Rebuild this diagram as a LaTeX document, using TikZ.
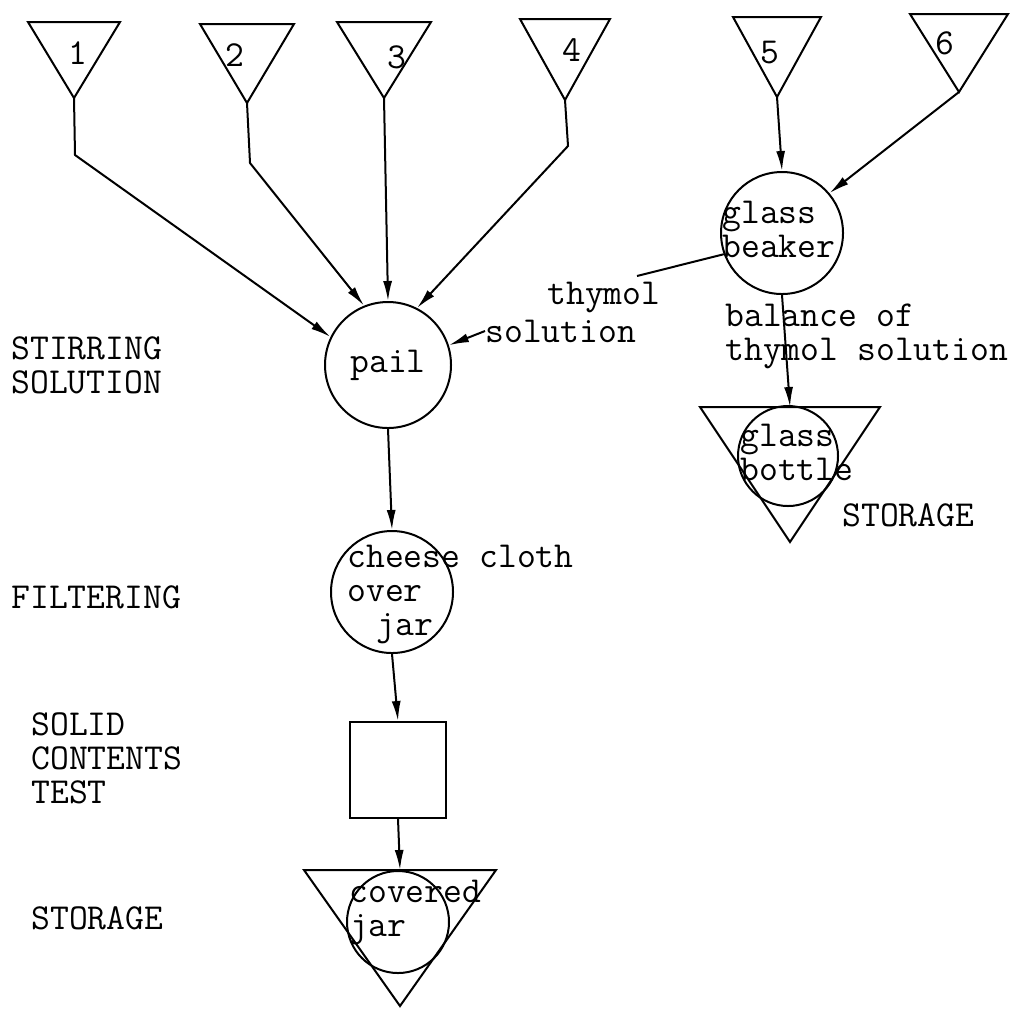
\documentclass[tikz,border=0pt]{standalone}
\usepackage{fontspec}
\usepackage{tikz}
\usetikzlibrary{arrows.meta}
\def\Bin#1#2#3#4#5{%
 \draw[bin edge] (#2-#4,#3) -- (#2+#4,#3) -- (#2,#3+#5) -- cycle;
 \coordinate (#1 top) at (#2,#3);
 \coordinate (#1 apex) at (#2,#3+#5);
}

\begin{document}
\begin{tikzpicture}[x=0.5pt, y=-0.5pt,
  every node/.style={font=\ttfamily\fontsize{18.3}{17}\selectfont},
  stage note/.style={anchor=west, align=left, inner sep=0pt},
  vessel/.style={draw, circle, line width=1pt, inner sep=0pt},
  test box/.style={draw, line width=1pt, minimum size=48pt},
  bin edge/.style={line width=1pt, line join=miter},
  flow line/.style={draw, line width=1pt, -{Latex[length=10pt,width=4.5pt]}},
  plain line/.style={draw, line width=1pt}]
\useasboundingbox (0,0) rectangle (1021,1009);

% supply bins
\Bin{b1}{74}{22}{46}{76}
\Bin{b2}{247}{24}{47}{79}
\Bin{b3}{384}{22}{47}{76}
\Bin{b4}{565}{19}{45}{81}
\Bin{b5}{777}{17}{44}{80}
\Bin{b6}{959}{14}{49}{78}
\node (n1) at (78,53) {1};
\node (n2) at (235,55) {2};
\node (n3) at (397,57) {3};
\node (n4) at (572,50) {4};
\node (n5) at (770,53) {5};
\node (n6) at (945,43) {6};

% main line
\node[vessel, minimum size=63pt] (pail) at (388,365) {pail};
\node[vessel, minimum size=61pt] (cheese) at (392,592) {};
\node[stage note] (cheese text) at (347,594) {cheese cloth\\over\\\hspace*{0.8em}jar};
\node[test box] (solids) at (398,770) {};
\Bin{store1}{400}{870}{96}{136}
\node[vessel, minimum size=51pt] (jar) at (398,922) {};
\node[stage note] (jar text) at (349,912) {covered\\jar};

% thymol line
\node[vessel, minimum size=61pt] (beaker) at (782,233) {};
\node[stage note] (beaker text) at (722,229) {glass\\beaker};
\Bin{store2}{790}{407}{90}{135}
\node[vessel, minimum size=50pt] (bottle) at (788,456) {};
\node[stage note] (bottle text) at (740,452) {glass\\bottle};

% stage names
\node[stage note] (stir) at (11,365) {STIRRING\\SOLUTION};
\node[stage note] (filter) at (11,597) {FILTERING};
\node[stage note] (solid) at (31,758) {SOLID\\CONTENTS\\TEST};
\node[stage note] (storage1) at (31,918) {STORAGE};
\node[stage note] (storage2) at (842,515) {STORAGE};
\node[stage note] (balance) at (725,336) {balance of\\thymol solution};
\node[stage note] (thymol) at (547,297) {thymol};
\node[stage note] (solution) at (485,331) {solution};

% connectors
\draw[flow line] (b1 apex) -- (75,155) -- (pail.154);
\draw[flow line] (b2 apex) -- (250,163) -- (pail.112);
\draw[flow line] (b3 apex) -- (pail.north);
\draw[flow line] (b4 apex) -- (568,146) -- (pail.63);
\draw[flow line] (solution.west) -- (pail.18);
\draw[flow line] (b5 apex) -- (beaker.north);
\draw[flow line] (b6 apex) -- (beaker.40);
\coordinate (thymol end) at (637,276);
\draw[plain line] (beaker.200) -- (thymol end);
\draw[flow line] (beaker.south) -- (store2 top);
\draw[flow line] (pail.south) -- (cheese.north);
\draw[flow line] (cheese.south) -- (solids.north);
\draw[flow line] (solids.south) -- (store1 top);
\end{tikzpicture}
\end{document}
